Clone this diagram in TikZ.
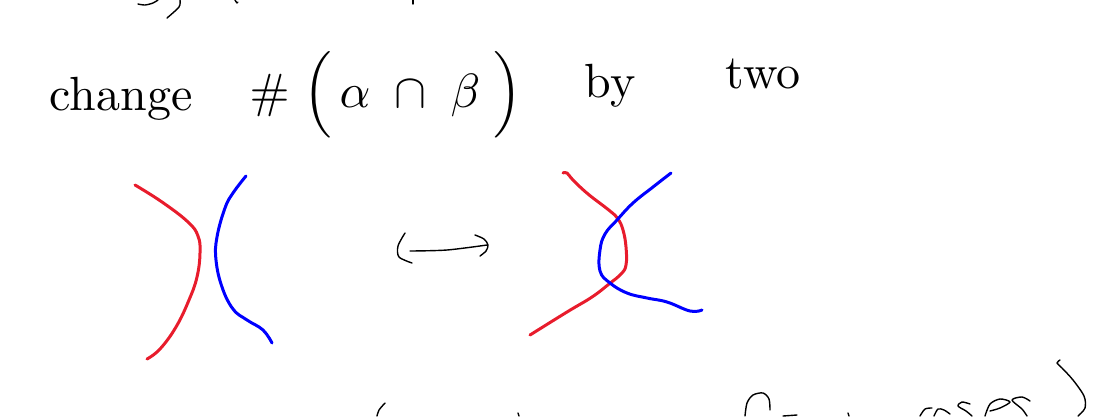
\documentclass[tikz,border=0pt]{standalone}
\definecolor{inkred}{RGB}{232,28,44}
\definecolor{inkblue}{RGB}{0,0,255}
\tikzset{
  ink/.style={line width=1.4pt, line cap=round, line join=round, black},
  redcurve/.style={line width=3pt, line cap=round, line join=round, inkred},
  bluecurve/.style={line width=3pt, line cap=round, line join=round, inkblue},
  hand/.style={inner sep=0pt, anchor=base, font=\normalsize, scale=4.8, transform shape}
}
\begin{document}
\begin{tikzpicture}[x=1pt,y=-1pt]
\useasboundingbox (0,0) rectangle (1110,416);
% partial strokes at the top edge
\draw[ink] plot[smooth] coordinates {(138,4) (145,5) (153,3) (158,0)};
\draw[ink] plot[smooth] coordinates {(180,0) (179,7) (167,18)};
\draw[ink] plot[smooth] coordinates {(235,0) (237,3) (238,2)};
\draw[ink] (413,0) -- (413,4);
% text line
\node[hand] (change) at (121,110) {change};
\node[hand] (count) at (386,107) {$\#\;\Bigl(\,\alpha\;\cap\;\beta\;\Bigr)$};
\node[hand] (by) at (610,97) {by};
\node[hand] (two) at (763,88) {two};
% left picture
\draw[redcurve] plot[smooth, tension=0.7] coordinates {(135,185) (162,202) (188,222) (198,236) (200,253) (197,277) (189,300) (176,327) (160,349) (147,359)};
\draw[bluecurve] plot[smooth, tension=0.7] coordinates {(246,176) (233,193) (225,208) (217,237) (216,260) (222,287) (233,309) (247,320) (263,330) (272,343)};
% hook arrow
\coordinate (hs) at (405,233);
\coordinate (as) at (410,251);
\coordinate (at) at (487,245);
\draw[ink] plot[smooth] coordinates {(hs) (398,246) (399,257) (412,263)};
\draw[ink] plot[smooth] coordinates {(as) (447,250) (at)};
\draw[ink] plot[smooth] coordinates {(475,235) (484,239) (488,245) (486,251) (480,256)};
% right picture
\draw[redcurve] plot[smooth, tension=0.7] coordinates {(563,173) (567,173) (573,180) (588,194) (610,211) (618,219) (623,230) (626,247) (626,265) (621,274) (609,284) (592,297) (567,312) (530,335)};
\draw[bluecurve] plot[smooth, tension=0.7] coordinates {(671,173) (653,187) (633,203) (617,220) (605,234) (600,250) (600,271) (610,283) (627,293) (647,298) (667,302) (690,311) (702,310)};
% partial strokes at the bottom edge
\draw[ink] plot[smooth] coordinates {(385,403) (379,410) (377,416)};
\draw[ink] (518,413) -- (519,416);
\draw[ink] plot[smooth] coordinates {(745,416) (747,403) (753,395) (763,393) (769,399) (770,410)};
\draw[ink] (783,416) -- (797,415);
\draw[ink] (848,413) -- (849,416);
\draw[ink] plot[smooth] coordinates {(920,416) (925,409) (932,408)};
\draw[ink] plot[smooth] coordinates {(934,416) (938,409) (944,410) (950,414)};
\draw[ink] plot[smooth] coordinates {(970,404) (962,402) (958,406) (966,411) (972,416)};
\draw[ink] plot[smooth] coordinates {(985,416) (990,404) (1000,399) (1010,402) (1000,408) (990,411)};
\draw[ink] plot[smooth] coordinates {(1030,401) (1022,397) (1012,400) (1022,409) (1027,416)};
\draw[ink] plot[smooth] coordinates {(1060,360) (1057,363) (1062,368) (1073,380) (1084,396) (1085,408) (1078,416)};
\end{tikzpicture}
\end{document}
